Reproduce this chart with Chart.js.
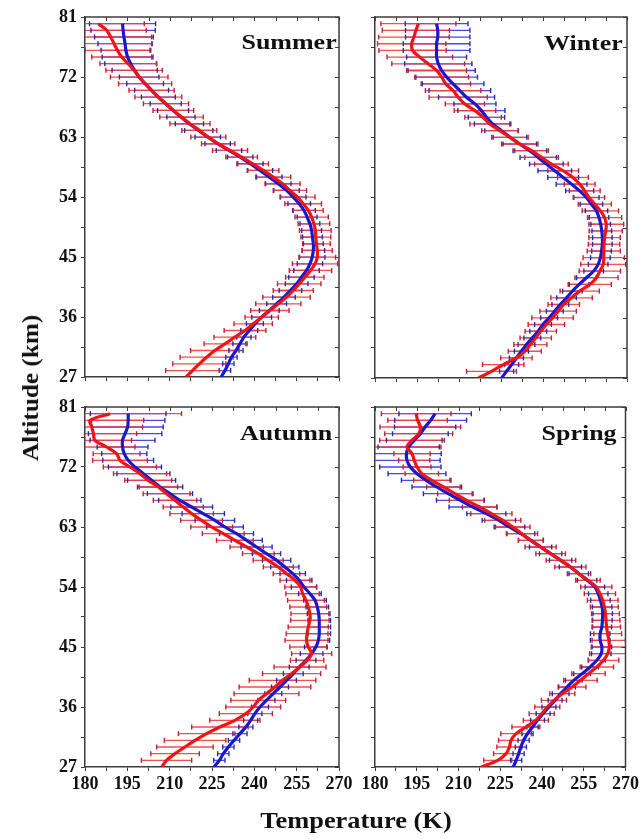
<!DOCTYPE html>
<html>
<head>
<meta charset="utf-8">
<script src="https://cdn.jsdelivr.net/npm/chart.js@4.4.1/dist/chart.umd.min.js"></script>
<style>
  body { margin: 0; background: #fff; width: 642px; height: 839px; position: relative; overflow: hidden;
         font-family: 'Liberation Serif', 'Times New Roman', serif; }
  canvas { position: absolute; }
  .season { position: absolute; font-weight: bold; font-size: 22px; line-height: 22px; color: #111;
            transform: scaleX(1.18); transform-origin: right center; white-space: nowrap; }
  .title { position: absolute; font-weight: bold; font-size: 24px; line-height: 24px; color: #111; white-space: nowrap; }
</style>
</head>
<body>
<canvas id="summer" width="360" height="392" style="left:0;top:0"></canvas>
<canvas id="winter" width="297" height="392" style="left:345px;top:0"></canvas>
<canvas id="autumn" width="360" height="447" style="left:0;top:392px"></canvas>
<canvas id="spring" width="297" height="447" style="left:345px;top:392px"></canvas>

<div class="season" style="right:305px;top:31px">Summer</div>
<div class="season" style="right:19px;top:32px">Winter</div>
<div class="season" style="right:310px;top:422px">Autumn</div>
<div class="season" style="right:25px;top:422px">Spring</div>

<div class="title" style="left:356px;top:808px;transform:translateX(-50%) scaleX(1.1)">Temperature (K)</div>
<div class="title" style="left:30px;top:388px;transform:translate(-50%,-50%) rotate(-90deg) scaleX(1.05)">Altitude (km)</div>

<script>
// altitude levels (km), bottom to top
const altitudes = [27, 28, 29, 30, 31, 32, 33, 34, 35, 36, 37, 38, 39, 40, 41, 42, 43, 44, 45, 46,
  47, 48, 49, 50, 51, 52, 53, 54, 55, 56, 57, 58, 59, 60, 61, 62, 63, 64, 65, 66,
  67, 68, 69, 70, 71, 72, 73, 74, 75, 76, 77, 78, 79, 80];

// temperature profiles (K) and error half-widths (K); no bar at 27 km
const summerRed = [215.8, 218.1, 220.5, 223.1, 226.0, 229.6, 233.1, 236.7, 239.6, 242.6, 245.5, 248.5, 251.4, 253.8, 255.9, 257.9, 259.9, 261.5, 262.3, 262.3,
  262.0, 261.8, 261.6, 261.1, 260.3, 259.1, 257.3, 255.3, 252.6, 250.0, 246.7, 243.2, 239.4, 235.5, 231.4, 227.2, 223.7, 220.5, 217.2, 214.2,
  211.3, 208.7, 206.0, 203.6, 201.3, 199.2, 197.4, 195.3, 193.0, 191.5, 190.3, 189.1, 187.7, 184.7];
const summerBlue = [228.2, 229.6, 230.8, 231.9, 233.5, 234.9, 236.3, 238.2, 240.2, 242.6, 245.3, 247.9, 250.5, 252.8, 255.0, 256.7, 258.5, 259.7, 260.5, 260.9,
  260.9, 260.6, 260.3, 259.7, 258.7, 257.6, 255.9, 253.8, 251.4, 248.5, 245.3, 242.0, 238.6, 235.0, 231.0, 227.0, 223.5, 220.3, 217.0, 214.0,
  211.2, 208.6, 206.0, 203.6, 201.3, 199.2, 197.6, 196.2, 195.1, 194.5, 194.2, 193.8, 193.5, 193.3];
const summerRedErr = [null, 9.5, 9.4, 9.4, 8.6, 7.4, 7.4, 7.4, 6.8, 5.9, 6.8, 8.0, 8.4, 7.1, 7.7, 6.8, 7.5, 8.0, 6.5, 5.3,
  4.9, 5.3, 5.6, 5.6, 5.9, 5.3, 6.5, 6.2, 5.9, 6.2, 6.2, 5.5, 5.6, 5.6, 6.2, 5.9, 6.2, 6.2, 7.1, 7.7,
  7.2, 8.0, 8.3, 8.0, 9.4, 10.2, 10.0, 10.0, 10.6, 11.5, 13.3, 14.5, 14.0, 16.3];
const summerBlueErr = [null, 2.0, 2.0, 2.0, 2.5, 2.5, 2.5, 3.0, 3.0, 3.5, 3.5, 3.5, 4.0, 4.0, 4.0, 4.5, 4.5, 4.5, 4.5, 4.0,
  3.5, 3.5, 3.5, 3.5, 3.5, 4.0, 4.0, 4.5, 4.5, 4.5, 4.5, 4.5, 4.5, 4.5, 4.5, 4.5, 4.5, 5.0, 5.0, 5.0,
  5.5, 5.5, 6.0, 6.0, 6.5, 7.0, 8.0, 9.2, 9.0, 8.8, 9.6, 10.4, 11.4, 11.7];

const winterRed = [216.9, 221.6, 225.8, 230.5, 233.5, 235.5, 237.4, 239.2, 241.2, 243.4, 245.4, 247.4, 250.2, 253.1, 256.7, 259.1, 260.3, 261.5, 261.7, 261.7,
  261.8, 262.0, 262.4, 262.6, 262.0, 260.5, 258.5, 256.4, 254.9, 253.1, 250.7, 247.2, 243.0, 239.5, 235.9, 231.7, 228.2, 224.6, 221.0, 218.6,
  215.7, 212.1, 209.7, 207.9, 205.3, 203.8, 202.0, 199.0, 196.0, 193.4, 193.1, 193.9, 194.6, 195.5];
const winterBlue = [225.2, 227.0, 228.8, 230.5, 232.3, 234.1, 236.2, 238.3, 240.0, 242.2, 244.2, 246.2, 248.4, 250.5, 252.9, 255.5, 258.1, 259.7, 260.5, 260.9,
  261.2, 261.2, 261.0, 260.6, 260.0, 259.1, 257.3, 255.5, 253.1, 250.2, 247.2, 244.2, 241.2, 238.3, 235.3, 231.7, 228.2, 225.2, 222.0, 219.8,
  218.0, 215.7, 212.7, 210.3, 207.9, 205.6, 203.8, 202.6, 202.0, 202.0, 202.0, 202.4, 202.4, 202.0];
const winterRedErr = [null, 8.9, 7.4, 5.6, 5.9, 5.9, 5.6, 5.6, 6.5, 7.4, 6.5, 5.6, 7.4, 7.0, 7.7, 7.7, 7.4, 8.0, 7.4, 5.9,
  5.6, 5.6, 5.9, 6.2, 6.1, 6.5, 5.9, 5.6, 5.5, 5.5, 5.5, 5.5, 6.0, 6.0, 6.0, 6.5, 6.5, 6.5, 7.1, 6.5,
  7.4, 7.0, 10.4, 9.9, 8.8, 9.6, 10.7, 13.0, 11.7, 12.0, 12.2, 12.6, 12.0, 13.4];
const winterBlueErr = [null, 2.5, 2.5, 2.5, 2.5, 3.0, 3.0, 3.0, 3.0, 3.0, 3.0, 3.0, 3.5, 3.5, 3.5, 3.5, 3.5, 3.5, 3.5, 3.5,
  3.5, 3.5, 3.5, 3.5, 3.5, 4.0, 4.0, 4.5, 5.0, 5.5, 5.5, 6.0, 6.0, 6.5, 6.0, 6.0, 6.0, 6.0, 6.5, 6.5,
  8.4, 7.5, 10.0, 11.0, 11.0, 11.0, 12.0, 12.0, 10.7, 11.9, 11.9, 11.5, 11.5, 11.2];

const autumnRed = [207.2, 208.9, 211.9, 215.4, 219.0, 223.1, 227.8, 233.1, 237.0, 239.6, 241.4, 244.3, 247.3, 250.0, 253.2, 256.2, 258.7, 260.3, 259.1, 258.5,
  258.7, 259.1, 259.7, 259.7, 259.1, 258.3, 257.1, 256.4, 254.4, 251.4, 248.5, 244.9, 241.4, 237.3, 233.1, 229.0, 224.9, 221.3, 217.8, 214.8,
  211.9, 208.9, 206.0, 202.4, 199.5, 195.9, 192.4, 191.2, 187.7, 183.5, 183.0, 182.4, 181.8, 188.9];
const autumnBlue = [225.7, 227.6, 229.0, 230.8, 232.8, 234.9, 237.0, 238.7, 240.2, 242.0, 244.3, 246.7, 249.1, 251.4, 253.8, 255.9, 258.3, 260.3, 261.8, 262.7,
  263.0, 263.0, 263.0, 262.8, 262.3, 261.5, 259.7, 257.6, 255.9, 253.6, 250.8, 247.9, 244.3, 240.8, 237.3, 233.7, 229.6, 226.0, 221.9, 217.8,
  213.6, 210.1, 206.6, 203.6, 200.7, 197.7, 195.3, 193.9, 193.3, 193.3, 194.2, 195.1, 195.3, 195.3];
const autumnRedErr = [null, 8.9, 8.6, 10.0, 10.9, 10.0, 10.0, 8.9, 9.4, 9.7, 9.7, 11.5, 12.7, 11.8, 10.3, 9.2, 5.9, 7.1, 6.5, 7.6,
  7.4, 7.1, 6.8, 6.7, 6.5, 6.5, 5.9, 5.6, 5.3, 4.7, 5.3, 5.3, 5.6, 5.9, 6.5, 7.4, 7.4, 7.4, 7.7, 7.1,
  7.7, 8.3, 6.8, 8.3, 9.4, 9.4, 9.7, 8.3, 10.0, 13.0, 15.3, 18.0, 19.0, 25.3];
const autumnBlueErr = [null, 2.0, 2.0, 2.0, 2.0, 2.5, 2.5, 2.5, 2.5, 3.0, 3.0, 3.0, 3.0, 3.5, 3.5, 3.5, 3.5, 4.0, 4.0, 4.0,
  4.0, 4.0, 4.0, 4.0, 4.0, 4.0, 4.0, 4.5, 4.5, 4.5, 5.0, 5.0, 5.0, 5.5, 5.5, 6.0, 6.5, 7.0, 7.5, 7.4,
  7.5, 8.0, 8.0, 8.5, 9.4, 9.4, 9.0, 8.0, 9.0, 11.5, 13.0, 12.6, 13.0, 13.4];

const springRed = [218.2, 224.1, 227.1, 228.3, 228.9, 230.7, 234.2, 237.8, 239.9, 241.9, 244.3, 247.3, 250.8, 253.8, 256.7, 259.7, 262.1, 263.6, 264.2, 264.0,
  263.6, 263.2, 263.0, 262.8, 262.4, 261.8, 260.8, 259.5, 256.5, 253.3, 250.2, 246.8, 243.1, 239.5, 236.0, 232.8, 229.5, 225.9, 221.8, 217.6,
  212.9, 208.7, 204.6, 200.4, 196.8, 195.1, 194.1, 193.3, 191.5, 193.3, 195.7, 196.3, 195.3, 194.8];
const springBlue = [229.7, 230.7, 231.6, 232.4, 233.4, 234.8, 236.6, 238.4, 240.4, 242.5, 244.7, 246.7, 249.0, 251.4, 254.4, 257.3, 259.7, 261.3, 261.5, 260.9,
  260.9, 261.5, 261.7, 261.8, 261.6, 261.0, 260.2, 259.0, 256.2, 253.2, 250.2, 246.7, 243.1, 239.5, 236.0, 232.4, 228.3, 224.5, 220.0, 215.2,
  210.7, 206.3, 202.2, 198.4, 195.1, 192.7, 191.5, 191.3, 192.1, 194.1, 196.3, 198.0, 200.0, 201.6];
const springRedErr = [null, 5.0, 4.5, 4.5, 4.5, 5.5, 5.0, 4.5, 4.5, 4.5, 4.5, 4.5, 5.0, 6.0, 6.0, 6.0, 5.5, 6.5, 6.5, 6.0,
  5.0, 5.0, 5.0, 5.0, 5.0, 5.5, 5.6, 5.6, 4.4, 4.2, 5.6, 5.3, 5.3, 5.6, 4.4, 5.6, 6.2, 6.5, 7.4, 6.2,
  6.2, 6.2, 6.0, 6.5, 6.0, 5.0, 5.6, 6.5, 12.2, 11.6, 12.2, 14.5, 10.7, 12.5];
const springBlueErr = [null, 2.0, 2.0, 2.0, 2.0, 2.0, 2.0, 2.5, 2.5, 2.5, 2.5, 3.0, 3.0, 3.0, 3.0, 3.0, 3.0, 3.5, 3.5, 3.5,
  3.5, 3.5, 3.5, 3.5, 3.5, 3.5, 3.5, 3.5, 3.5, 3.5, 4.0, 4.0, 4.0, 4.0, 4.5, 5.0, 5.5, 6.0, 7.0, 8.6,
  8.6, 8.9, 8.9, 8.9, 10.4, 11.0, 11.9, 12.5, 11.0, 10.0, 10.0, 11.0, 12.9, 13.0];

const tempTicks = { min: 180, max: 270, step: 7.5, labelEvery: 15 };
const altTicks = { min: 27, max: 81, step: 4.5, labelEvery: 9 };

const RED = '#f01414';
const BLUE = '#1818d0';
const AXIS = '#3c3c3c';
const FONT = { family: "'Liberation Serif', 'Times New Roman', serif", size: 18, weight: 'bold' };

// horizontal error bars, drawn under the profile lines
const errorBars = {
  id: 'errorBars',
  beforeDatasetsDraw(chart) {
    const { ctx, chartArea: a, scales: { x, y } } = chart;
    const sets = chart.data.datasets.slice().reverse(); // blue first, red over it
    ctx.save();
    ctx.beginPath();
    ctx.rect(a.left, a.top, a.width, a.height);
    ctx.clip();
    ctx.lineWidth = 1.3;
    for (const ds of sets) {
      ctx.strokeStyle = ds.whiskerColor;
      ds.data.forEach((p, i) => {
        const e = ds.err[i];
        if (e == null) return;
        const py = y.getPixelForValue(p.y);
        ctx.beginPath();
        ctx.moveTo(x.getPixelForValue(p.x - e), py);
        ctx.lineTo(x.getPixelForValue(p.x + e), py);
        ctx.stroke();
      });
    }
    ctx.lineWidth = 1.4;
    for (const ds of sets) {
      ctx.strokeStyle = ds.capColor;
      ds.data.forEach((p, i) => {
        const e = ds.err[i];
        if (e == null) return;
        const py = y.getPixelForValue(p.y);
        for (const v of [p.x - e, p.x + e]) {
          const px = x.getPixelForValue(v);
          ctx.beginPath();
          ctx.moveTo(px, py - 2.5);
          ctx.lineTo(px, py + 2.5);
          ctx.stroke();
        }
      });
    }
    ctx.restore();
  }
};

// top and right frame with inward ticks
const mirrorFrame = {
  id: 'mirrorFrame',
  afterDraw(chart) {
    const { ctx, chartArea: a, scales: { x, y } } = chart;
    ctx.save();
    ctx.strokeStyle = AXIS;
    ctx.lineWidth = 1;
    for (const t of x.ticks) {
      const px = Math.round(x.getPixelForValue(t.value)) + 0.5;
      ctx.beginPath();
      ctx.moveTo(px, a.top);
      ctx.lineTo(px, a.top + 4);
      ctx.stroke();
    }
    for (const t of y.ticks) {
      const py = Math.round(y.getPixelForValue(t.value)) + 0.5;
      ctx.beginPath();
      ctx.moveTo(a.right, py);
      ctx.lineTo(a.right - 4, py);
      ctx.stroke();
    }
    ctx.lineWidth = 1.5;
    ctx.beginPath();
    ctx.moveTo(a.left, a.top);
    ctx.lineTo(a.right, a.top);
    ctx.lineTo(a.right, a.bottom);
    ctx.stroke();
    ctx.restore();
  }
};

function profile(values) {
  return values.map((v, i) => ({ x: v, y: altitudes[i] }));
}

function makePanel(id, red, redErr, blue, blueErr, opts) {
  const lineSet = (data, err, color, whisker, cap) => ({
    data: profile(data),
    err,
    whiskerColor: whisker,
    capColor: cap,
    showLine: true,
    borderColor: color,
    borderWidth: 3.2,
    pointRadius: 0,
    tension: 0.35,
  });

  new Chart(document.getElementById(id), {
    type: 'scatter',
    data: {
      datasets: [
        lineSet(red, redErr, RED, 'rgba(238,64,64,0.92)', '#c0203a'),
        lineSet(blue, blueErr, BLUE, 'rgba(58,58,228,0.92)', '#2a2aa6'),
      ],
    },
    options: {
      responsive: false,
      animation: false,
      devicePixelRatio: 1,
      layout: { padding: opts.padding },
      plugins: { legend: { display: false }, tooltip: { enabled: false } },
      scales: {
        x: {
          type: 'linear',
          position: 'bottom',
          min: tempTicks.min,
          max: tempTicks.max,
          afterFit: s => { s.height = opts.xHeight; },
          border: { display: true, color: AXIS, width: 1.5 },
          grid: { drawOnChartArea: false, drawTicks: true, tickLength: 4, color: AXIS, lineWidth: 1 },
          ticks: {
            display: opts.xLabels,
            stepSize: tempTicks.step,
            autoSkip: false,
            maxRotation: 0,
            padding: 3,
            color: '#111',
            font: FONT,
            callback: v => ((v - tempTicks.min) % tempTicks.labelEvery === 0 ? String(v) : ''),
          },
        },
        y: {
          type: 'linear',
          position: 'left',
          min: altTicks.min,
          max: altTicks.max,
          afterFit: s => { s.width = opts.yWidth; },
          border: { display: true, color: AXIS, width: 1.5 },
          grid: { drawOnChartArea: false, drawTicks: true, tickLength: 4, color: AXIS, lineWidth: 1 },
          ticks: {
            display: opts.yLabels,
            stepSize: altTicks.step,
            autoSkip: false,
            padding: 4,
            color: '#111',
            font: FONT,
            callback: v => ((v - altTicks.min) % altTicks.labelEvery === 0 ? String(v) : ''),
          },
        },
      },
    },
    plugins: [errorBars, mirrorFrame],
  });
}

const topPad = { top: 17, bottom: 0 };
const bottomPad = { top: 15, bottom: 32 };

makePanel('summer', summerRed, summerRedErr, summerBlue, summerBlueErr,
  { padding: { left: 0, right: 21, ...topPad }, xHeight: 14, yWidth: 85, xLabels: false, yLabels: true });
makePanel('winter', winterRed, winterRedErr, winterBlue, winterBlueErr,
  { padding: { left: 0, right: 15, ...topPad }, xHeight: 14, yWidth: 30, xLabels: false, yLabels: false });
makePanel('autumn', autumnRed, autumnRedErr, autumnBlue, autumnBlueErr,
  { padding: { left: 0, right: 21, ...bottomPad }, xHeight: 40, yWidth: 85, xLabels: true, yLabels: true });
makePanel('spring', springRed, springRedErr, springBlue, springBlueErr,
  { padding: { left: 0, right: 15, ...bottomPad }, xHeight: 40, yWidth: 30, xLabels: true, yLabels: false });
</script>
</body>
</html>
